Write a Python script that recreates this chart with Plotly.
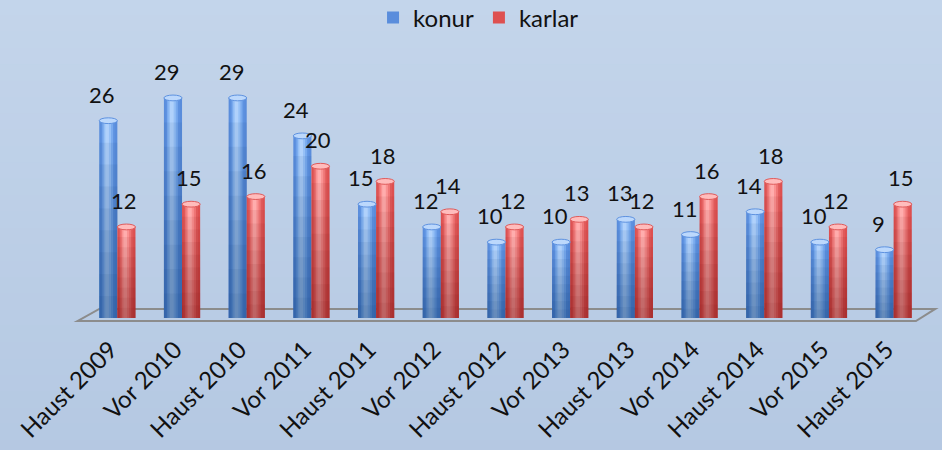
import plotly.graph_objects as go

categories = ["Haust 2009", "Vor 2010", "Haust 2010", "Vor 2011", "Haust 2011",
              "Vor 2012", "Haust 2012", "Vor 2013", "Haust 2013", "Vor 2014",
              "Haust 2014", "Vor 2015", "Haust 2015"]
konur = [26, 29, 29, 24, 15, 12, 10, 10, 13, 11, 14, 10, 9]
karlar = [12, 15, 16, 20, 18, 14, 12, 13, 12, 16, 18, 12, 15]

xs = list(range(len(categories)))
BW = 0.28
FONT = "Lato, 'Open Sans', sans-serif"

series = [
    ("konur", konur, -BW, ["#4a7fd0", "#5e92e0", "#79aaee", "#96c0f6", "#b0d1fb"],
     "#5a8ddc", "#bcd8fc", "rgba(20,50,120,0.07)", -6),
    ("karlar", karlar, 0.0, ["#d04646", "#e05a5a", "#ef7676", "#fa9292", "#ffadad"],
     "#de5050", "#ffbcbc", "rgba(120,10,10,0.07)", -2),
]

fig = go.Figure()
shapes = []
annotations = []

# background gradient
top = (0xc4, 0xd5, 0xeb)
bot = (0xb4, 0xc8, 0xe2)
N = 30
for k in range(N):
    t = k / (N - 1)
    c = tuple(round(top[j] + (bot[j] - top[j]) * t) for j in range(3))
    y1 = 1.3 - k * (1.9 / N)
    shapes.append(dict(type="rect", xref="paper", yref="paper", x0=-0.2, x1=1.2,
                       y0=y1 - 1.9 / N - 0.002, y1=y1, line_width=0,
                       fillcolor="rgb(%d,%d,%d)" % c, layer="below"))

# floor
shapes.append(dict(type="path", xref="paper", yref="paper",
                   path="M -0.009,-0.012 L 0.017,0.035 L 1.011,0.035 L 0.988,-0.012 Z",
                   line=dict(color="#8c8c8c", width=2), fillcolor="rgba(0,0,0,0)", layer="below"))

for name, vals, off, cols, legcol, capcol, shade, lxs in series:
    fracs = [1.0, 0.8, 0.6, 0.4, 0.2]
    for li, (f, col) in enumerate(zip(fracs, cols)):
        w = BW * f
        o = off + (BW - w) * 0.42
        fig.add_trace(go.Bar(
            x=xs, y=vals, width=w, offset=o, name=name,
            marker=dict(color=legcol if li == 0 else col, line=dict(width=0)),
            showlegend=(li == 0), legendgroup=name, hoverinfo="skip"))
    # vertical darkening toward the bottom
    for s in range(1, 9):
        frac = s / 9
        fig.add_trace(go.Bar(
            x=xs, y=[v * frac for v in vals], width=BW, offset=off,
            marker=dict(color=shade, line=dict(width=0)),
            showlegend=False, hoverinfo="skip"))
    for i, v in enumerate(vals):
        shapes.append(dict(type="circle", xref="x", yref="y",
                           x0=i + off, x1=i + off + BW, y0=v - 0.38, y1=v + 0.38,
                           fillcolor=capcol, line=dict(color=cols[1], width=1)))
        annotations.append(dict(x=i + off + BW / 2, y=v + 0.38, text=str(v),
                                showarrow=False, yanchor="bottom", yshift=8, xshift=lxs,
                                font=dict(size=22, color="#111111", family=FONT)))

fig.update_layout(
    width=942, height=450,
    margin=dict(l=85, r=16, t=60, b=132),
    paper_bgcolor="#bcd0e8", plot_bgcolor="rgba(0,0,0,0)",
    barmode="overlay",
    shapes=shapes, annotations=annotations,
    font=dict(family=FONT, size=20, color="#111111"),
    legend=dict(orientation="h", xref="container", yref="container", x=0.508, y=0.96,
                xanchor="center", yanchor="middle", font=dict(size=24),
                itemsizing="constant", bgcolor="rgba(0,0,0,0)"),
    xaxis=dict(range=[-0.5, 12.5], tickvals=xs, ticktext=categories, tickangle=-45,
               showgrid=False, zeroline=False, showline=False, ticks="",
               automargin=False, ticklabelstandoff=12, ticklabelshift=-7,
               tickfont=dict(size=24, family=FONT, color="#111111")),
    yaxis=dict(range=[0, 34], visible=False, showgrid=False, zeroline=False,
               automargin=False),
)

fig.write_html("out.html", config={"displayModeBar": False},
               post_script="document.body.style.margin='0';document.documentElement.style.margin='0';")
